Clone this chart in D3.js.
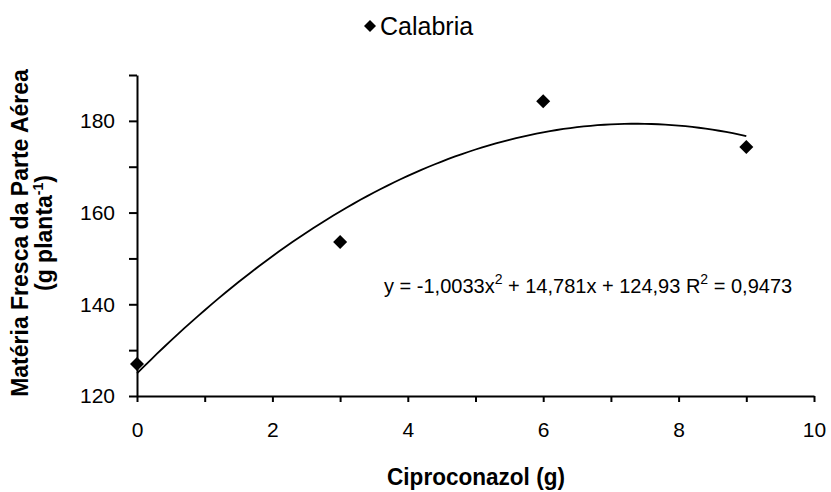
<!DOCTYPE html>
<html>
<head>
<meta charset="utf-8">
<script src="https://cdn.jsdelivr.net/npm/d3@7"></script>
<style>
  html, body { margin: 0; padding: 0; background: #fff; }
  svg { display: block; }
  text { font-family: "Liberation Sans", Arial, sans-serif; fill: #000; }
</style>
</head>
<body>
<svg id="chart" width="831" height="492"></svg>
<script>
// Doses of ciproconazol (g) and fresh shoot mass (g planta^-1)
const doses = [0, 3, 6, 9];
const freshMass = [127, 153.6, 184.3, 174.3];
const seriesName = "Calabria";

// Quadratic trend: y = a*x^2 + b*x + c
const trendCoef = [-1.0033, 14.781, 124.93];
const trendLabel = ["y = -1,0033x", "2", " + 14,781x + 124,93 R", "2", " = 0,9473"];

const xTicks = [0, 1, 2, 3, 4, 5, 6, 7, 8, 9, 10];
const xTickLabels = ["0", "", "2", "", "4", "", "6", "", "8", "", "10"];
const yTicks = [120, 130, 140, 150, 160, 170, 180, 190];
const yTickLabels = ["120", "", "140", "", "160", "", "180", ""];

const svg = d3.select("#chart");
const plot = { left: 137, right: 814, top: 75, bottom: 396 };
const tickFont = "21px";

const x = d3.scaleLinear().domain([0, 10]).range([plot.left, plot.right]);
const y = d3.scaleLinear().domain([120, 190]).range([plot.bottom, plot.top]);

// X axis
const xAxis = d3.axisBottom(x)
  .tickValues(xTicks)
  .tickFormat((d, i) => xTickLabels[i])
  .tickSizeInner(6).tickSizeOuter(0).tickPadding(20);
const gx = svg.append("g").attr("transform", `translate(0,${plot.bottom})`).call(xAxis);
gx.select(".domain").attr("stroke", "#000").attr("stroke-width", 2);
gx.selectAll(".tick line").attr("stroke", "#000").attr("stroke-width", 2);
gx.selectAll(".tick text").style("font-size", tickFont).style("font-family", "Liberation Sans, Arial, sans-serif");

// Y axis
const yAxis = d3.axisLeft(y)
  .tickValues(yTicks)
  .tickFormat((d, i) => yTickLabels[i])
  .tickSizeInner(8).tickSizeOuter(0).tickPadding(14);
const gy = svg.append("g").attr("transform", `translate(${plot.left},0)`).call(yAxis);
gy.select(".domain").attr("stroke", "#000").attr("stroke-width", 2);
gy.selectAll(".tick line").attr("stroke", "#000").attr("stroke-width", 2);
gy.selectAll(".tick text").style("font-size", tickFont).style("font-family", "Liberation Sans, Arial, sans-serif");

// Trend curve over the dose range
const trendX = d3.range(0, 9.0001, 0.1);
const trend = x0 => trendCoef[0] * x0 * x0 + trendCoef[1] * x0 + trendCoef[2];
svg.append("path")
  .datum(trendX)
  .attr("fill", "none")
  .attr("stroke", "#000")
  .attr("stroke-width", 1.8)
  .attr("d", d3.line().x(d => x(d)).y(d => y(trend(d))));

// Observed points as diamonds
svg.append("g").selectAll("path")
  .data(doses.map((d, i) => [d, freshMass[i]]))
  .join("path")
  .attr("transform", d => `translate(${x(d[0])},${y(d[1])}) rotate(45)`)
  .attr("d", d3.symbol().type(d3.symbolSquare).size(98))
  .attr("fill", "#000");

// Equation label
const eq = svg.append("text").attr("x", 384).attr("y", 293).style("font-size", "20px");
trendLabel.forEach((t, i) => {
  const sup = i === 1 || i === 3;
  eq.append("tspan")
    .attr("dy", sup ? -9 : (i > 0 ? 9 : 0))
    .style("font-size", sup ? "14px" : "20px")
    .text(t);
});

// Legend
svg.append("path")
  .attr("transform", "translate(370,26) rotate(45)")
  .attr("d", d3.symbol().type(d3.symbolSquare).size(72))
  .attr("fill", "#000");
svg.append("text").attr("x", 380).attr("y", 35).style("font-size", "25px").text(seriesName);

// Axis titles
svg.append("text")
  .attr("x", 476).attr("y", 485)
  .attr("text-anchor", "middle")
  .attr("transform", "translate(476,0) scale(0.94,1) translate(-476,0)")
  .style("font-weight", "bold").style("font-size", "24px")
  .text("Ciproconazol (g)");

const yt = svg.append("text")
  .attr("transform", "translate(28,233) rotate(-90)")
  .attr("text-anchor", "middle")
  .style("font-weight", "bold").style("font-size", "23px");
yt.append("tspan").attr("x", 0).attr("dy", 0).text("Matéria Fresca da Parte Aérea");
const l2 = yt.append("tspan").attr("x", 0).attr("dy", 24);
l2.append("tspan").text("(g planta");
l2.append("tspan").attr("dy", -9).style("font-size", "14px").text("-1");
l2.append("tspan").attr("dy", 9).text(")");
</script>
</body>
</html>
